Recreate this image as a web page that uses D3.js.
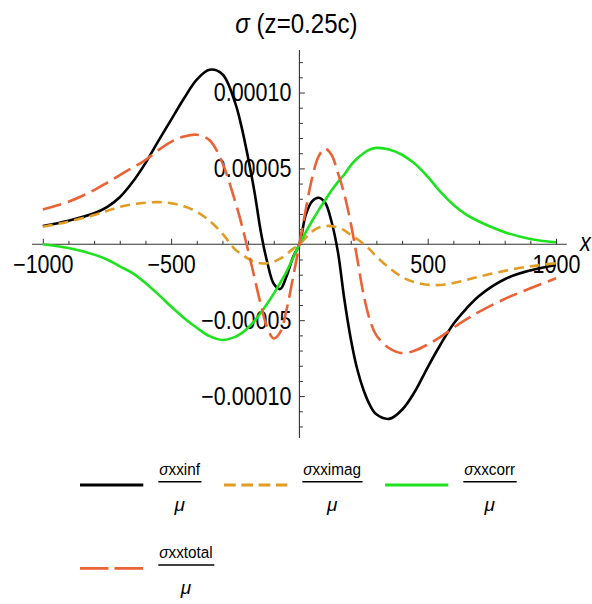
<!DOCTYPE html>
<html>
<head>
<meta charset="utf-8">
<script src="https://cdn.jsdelivr.net/npm/d3@7"></script>
<style>
  html, body { margin: 0; padding: 0; background: #fff; }
  svg text { font-family: "Liberation Sans Narrow", "Arial Narrow", "Liberation Sans", Arial, sans-serif; fill: #000; }
</style>
</head>
<body>
<svg id="chart" width="592" height="604"></svg>
<script>
// Stress components along x for z = 0.25c, values in units of 1e-5 (σ/μ).
const xValues = [-1000, -900, -800, -750, -700, -650, -600, -550, -500, -450, -400, -350, -300, -250, -225, -200, -175, -150, -125, -100, -75, -50, -25,
                 0, 25, 50, 75, 100, 125, 150, 175, 200, 225, 250, 275, 300, 350, 400, 450, 500, 550, 600, 650, 700, 800, 900, 1000];

const sxxInf = [1.20, 1.55, 2.04, 2.45, 3.1, 4.1, 5.35, 6.8, 8.2, 9.6, 10.85, 11.5, 11.2, 9.3, 7.7, 5.7, 3.45, 0.8, -1.2, -2.6, -2.95, -2.1, -0.85,
                0, 1.95, 2.85, 3.07, 2.75, 1.5, -0.5, -3.6, -6.2, -8.2, -9.6, -10.6, -11.2, -11.5, -10.9, -9.7, -8.1, -6.6, -5.25, -4.25, -3.4, -2.3, -1.72, -1.36];

const sxxImag = [1.16, 1.49, 1.93, 2.2, 2.47, 2.64, 2.74, 2.78, 2.7, 2.5, 2.14, 1.55, 0.7, -0.35, -0.65, -0.95, -1.15, -1.25, -1.25, -1.15, -0.95, -0.65, -0.3,
                 0, 0.45, 0.85, 1.1, 1.2, 1.2, 1.1, 0.92, 0.62, 0.35, 0.02, -0.35, -0.8, -1.55, -2.15, -2.5, -2.66, -2.68, -2.55, -2.35, -2.13, -1.75, -1.45, -1.25];

const sxxCorr = [0, -0.25, -0.68, -1.0, -1.45, -1.9, -2.55, -3.3, -4.1, -4.85, -5.5, -6.05, -6.3, -6.1, -5.85, -5.5, -5.05, -4.5, -3.9, -3.25, -2.55, -1.8, -0.9,
                 0, 0.8, 1.55, 2.25, 2.9, 3.55, 4.1, 4.6, 5.2, 5.65, 6.0, 6.25, 6.35, 6.25, 5.9, 5.3, 4.45, 3.45, 2.6, 1.95, 1.5, 0.8, 0.35, 0.13];

const sxxTotal = [2.30, 2.8, 3.57, 4.05, 4.56, 5.05, 5.55, 6.2, 6.75, 7.1, 7.22, 6.85, 5.35, 2.8, 1.3, -0.4, -2.2, -4.0, -5.5, -6.2, -5.8, -4.3, -2.2,
                  0, 2.3, 4.4, 5.8, 6.3, 5.9, 4.7, 3.3, 1.4, -0.9, -3.3, -5.0, -6.0, -6.85, -7.17, -7.0, -6.6, -6.1, -5.5, -4.95, -4.45, -3.6, -2.9, -2.24];

const valueUnit = 1e-5;

const seriesLabels = ["xxinf", "xximag", "xxcorr", "xxtotal"];

const xTickValues = [-1000, -500, 500, 1000];
const xTickLabels = ["\u22121000", "\u2212500", "500", "1000"];
const yTickValues = [-1e-4, -5e-5, 5e-5, 1e-4];
const yTickLabels = ["\u22120.00010", "\u22120.00005", "0.00005", "0.00010"];

const titleSymbol = "\u03C3";
const titleRest = " (z=0.25c)";

// ---- layout ----
const svg = d3.select("#chart");
const x = d3.scaleLinear().domain([-1000, 1000]).range([42.8, 556]);
const y = d3.scaleLinear().domain([-1e-4, 1e-4]).range([396.1, 92.5]);
const xAxisExtent = [-1042, 1042];
const yAxisExtent = [-1.276e-4, 1.28e-4];

const series = [
  { label: seriesLabels[0], values: sxxInf,   color: "#000000", width: 2.6, dash: null,   legendDash: null },
  { label: seriesLabels[1], values: sxxImag,  color: "#E09C24", width: 2.6, dash: "10,6", legendDash: "11.7,5.6" },
  { label: seriesLabels[2], values: sxxCorr,  color: "#1FE21F", width: 2.6, dash: null,   legendDash: null },
  { label: seriesLabels[3], values: sxxTotal, color: "#EB6235", width: 2.6, dash: "19,7", legendDash: "28.5,6" }
];

// Squeeze text horizontally about its anchor point (narrow face look).
function narrow(sel, k) {
  sel.each(function () {
    const ax = +(this.getAttribute("x") || 0);
    this.setAttribute("transform", `translate(${ax},0) scale(${k},1) translate(${-ax},0)`);
  });
}

// ---- axes ----
const axisColor = "#333";
const x0 = x(0), y0 = y(0);

svg.append("line")
  .attr("x1", x(xAxisExtent[0])).attr("x2", x(xAxisExtent[1]))
  .attr("y1", y0).attr("y2", y0)
  .attr("stroke", axisColor).attr("stroke-width", 1.1);
svg.append("line")
  .attr("x1", x0).attr("x2", x0)
  .attr("y1", y(yAxisExtent[1])).attr("y2", y(yAxisExtent[0]))
  .attr("stroke", axisColor).attr("stroke-width", 1.1);

// x minor ticks
const xMinor = d3.range(-1000, 1001, 100).filter(v => v !== 0 && !xTickValues.includes(v));
svg.append("g").attr("transform", `translate(0,${y0})`)
  .call(d3.axisBottom(x).tickValues(xMinor).tickSize(-3.5).tickFormat(""))
  .call(g => g.select(".domain").remove())
  .call(g => g.selectAll("line").attr("stroke", axisColor));
// x major ticks + labels
svg.append("g").attr("transform", `translate(0,${y0})`)
  .call(d3.axisBottom(x).tickValues(xTickValues).tickSize(-5.5).tickFormat((d, i) => xTickLabels[i]))
  .call(g => g.select(".domain").remove())
  .call(g => g.selectAll("line").attr("stroke", axisColor))
  .call(g => g.selectAll("text").attr("y", 10.5).attr("dy", "0.71em")
    .attr("font-size", 25).attr("font-family", null).call(narrow, 0.86));

// y minor ticks
const yMinor = d3.range(-12, 13, 1).filter(v => v !== 0 && v % 5 !== 0).map(v => v * 1e-5);
svg.append("g").attr("transform", `translate(${x0},0)`)
  .call(d3.axisLeft(y).tickValues(yMinor).tickSize(-3.5).tickFormat(""))
  .call(g => g.select(".domain").remove())
  .call(g => g.selectAll("line").attr("stroke", axisColor));
// y major ticks + labels
svg.append("g").attr("transform", `translate(${x0},0)`)
  .call(d3.axisLeft(y).tickValues(yTickValues).tickSize(-5.5).tickPadding(8).tickFormat((d, i) => yTickLabels[i]))
  .call(g => g.select(".domain").remove())
  .call(g => g.selectAll("line").attr("stroke", axisColor))
  .call(g => g.selectAll("text").attr("font-size", 25).attr("font-family", null).call(narrow, 0.86));

// axis label x
svg.append("text")
  .attr("x", 580).attr("y", 251)
  .attr("font-size", 25).attr("font-style", "italic")
  .text("x")
  .call(narrow, 0.86);

// ---- curves ----
const line = d3.line()
  .x(d => x(d[0]))
  .y(d => y(d[1] * valueUnit))
  .curve(d3.curveCatmullRom.alpha(0.5));

series.forEach(s => {
  svg.append("path")
    .datum(xValues.map((xv, i) => [xv, s.values[i]]))
    .attr("fill", "none")
    .attr("stroke", s.color)
    .attr("stroke-width", s.width)
    .attr("stroke-dasharray", s.dash)
    .attr("d", line);
});

// ---- title ----
const title = svg.append("text")
  .attr("x", 296.5).attr("y", 33)
  .attr("text-anchor", "middle")
  .attr("font-size", 28);
title.append("tspan").attr("font-style", "italic").text(titleSymbol);
title.append("tspan").text(titleRest);
title.call(narrow, 0.86);

// ---- legend ----
const legend = svg.append("g");
const legendK = 0.9;
let cursor = 80;
series.forEach((s, i) => {
  const col = i % 3, row = Math.floor(i / 3);
  if (col === 0) cursor = 80;
  const ly = 485 + row * 83.3;
  legend.append("line")
    .attr("x1", cursor).attr("x2", cursor + 63.3)
    .attr("y1", ly).attr("y2", ly)
    .attr("stroke", s.color).attr("stroke-width", 2.8)
    .attr("stroke-dasharray", s.legendDash);
  const tx = cursor + 79.3;
  const num = legend.append("text")
    .attr("x", tx).attr("y", ly - 10)
    .attr("font-size", 17);
  num.append("tspan").attr("font-style", "italic").text("\u03C3");
  num.append("tspan").text(s.label);
  const w = num.node().getComputedTextLength() * legendK;
  num.call(narrow, legendK);
  legend.append("line")
    .attr("x1", tx - 1).attr("x2", tx + w + 1.5)
    .attr("y1", ly - 3.3).attr("y2", ly - 3.3)
    .attr("stroke", "#000").attr("stroke-width", 1.4);
  legend.append("text")
    .attr("x", tx + w / 2).attr("y", ly + 26)
    .attr("text-anchor", "middle")
    .attr("font-size", 19).attr("font-style", "italic")
    .text("\u03BC");
  cursor = tx + w + 24;
});
</script>
</body>
</html>
